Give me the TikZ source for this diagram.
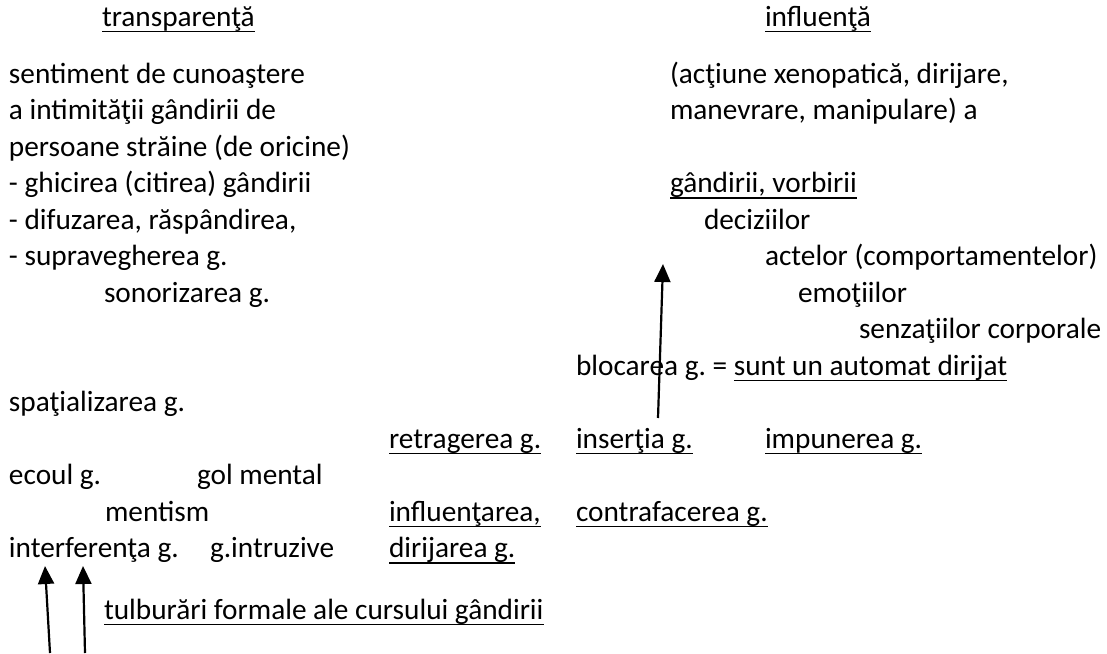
\documentclass[tikz,border=0pt]{standalone}
\usepackage{fontspec}
\setmainfont{Carlito}
\usetikzlibrary{arrows.meta}
\tikzset{
  txt/.style={anchor=base west, inner sep=0pt, outer sep=0pt, font=\fontsize{29.3}{36}\selectfont},
  ulline/.style={line width=1.8pt},
  arr/.style={line width=2.2pt, -{Triangle[width=16pt,length=18pt]}}
}
\newcommand{\ul}[1]{\draw[ulline] ([yshift=-5.5pt]#1.base west) -- ([yshift=-5.5pt]#1.base east);}
\begin{document}
\begin{tikzpicture}[x=1pt,y=1pt]
\useasboundingbox (0,0) rectangle (1107,-653);
% titles
\node[txt] (t1) at (102,-26) {transparenţă};
\node[txt] (t2) at (765,-26) {influenţă};
% left column
\node[txt] (l1) at (9,-83) {sentiment de cunoaştere};
\node[txt] (l2) at (9,-119.5) {a intimităţii gândirii de};
\node[txt] (l3) at (9,-156) {persoane străine (de oricine)};
\node[txt] (l4) at (9,-192.5) {- ghicirea (citirea) gândirii};
\node[txt] (l5) at (9,-229) {- difuzarea, răspândirea,};
\node[txt] (l6) at (9,-265.5) {- supravegherea g.};
\node[txt] (l7) at (104,-302) {sonorizarea g.};
\node[txt] (l8) at (9,-411.5) {spaţializarea g.};
\node[txt] (l9) at (9,-484.5) {ecoul g.};
\node[txt] (l10) at (197,-484.5) {gol mental};
\node[txt] (l11) at (105,-521) {mentism};
\node[txt] (l12) at (9,-557.5) {interferenţa g.};
\node[txt] (l13) at (210,-557.5) {g.intruzive};
\node[txt] (tf) at (104,-619) {tulburări formale ale cursului gândirii};
% middle
\node[txt] (m1) at (389,-448) {retragerea g.};
\node[txt] (m2) at (389,-521) {influenţarea,};
\node[txt] (m3) at (389,-557.5) {dirijarea g.};
\node[txt] (m4) at (576,-448) {inserţia g.};
\node[txt] (m5) at (765,-448) {impunerea g.};
\node[txt] (m6) at (576,-521) {contrafacerea g.};
% right column
\node[txt] (r1) at (670,-83) {(acţiune xenopatică, dirijare,};
\node[txt] (r2) at (670,-119.5) {manevrare, manipulare) a};
\node[txt] (r3) at (670,-192.5) {gândirii, vorbirii};
\node[txt] (r4) at (704,-229) {deciziilor};
\node[txt] (r5) at (765,-265.5) {actelor (comportamentelor)};
\node[txt] (r6) at (798,-302) {emoţiilor};
\node[txt] (r7) at (859,-338.5) {senzaţiilor corporale};
\node[txt] (r8) at (576,-375) {blocarea g.\ =\ \strut};
\node[txt] (r9) at (r8.base east) {sunt un automat dirijat};
% underlines
\ul{t1}\ul{t2}\ul{r3}\ul{r9}\ul{m1}\ul{m2}\ul{m3}\ul{m4}\ul{m5}\ul{m6}\ul{tf}
% arrows
\coordinate (a1s) at (658,-418);
\coordinate (a1e) at (663,-264);
\coordinate (a2s) at (50,-653);
\coordinate (a2e) at (45,-566);
\coordinate (a3s) at (85,-653);
\coordinate (a3e) at (83,-566);
\draw[arr] (a1s) -- (a1e);
\draw[arr] (a2s) -- (a2e);
\draw[arr] (a3s) -- (a3e);
\end{tikzpicture}
\end{document}
